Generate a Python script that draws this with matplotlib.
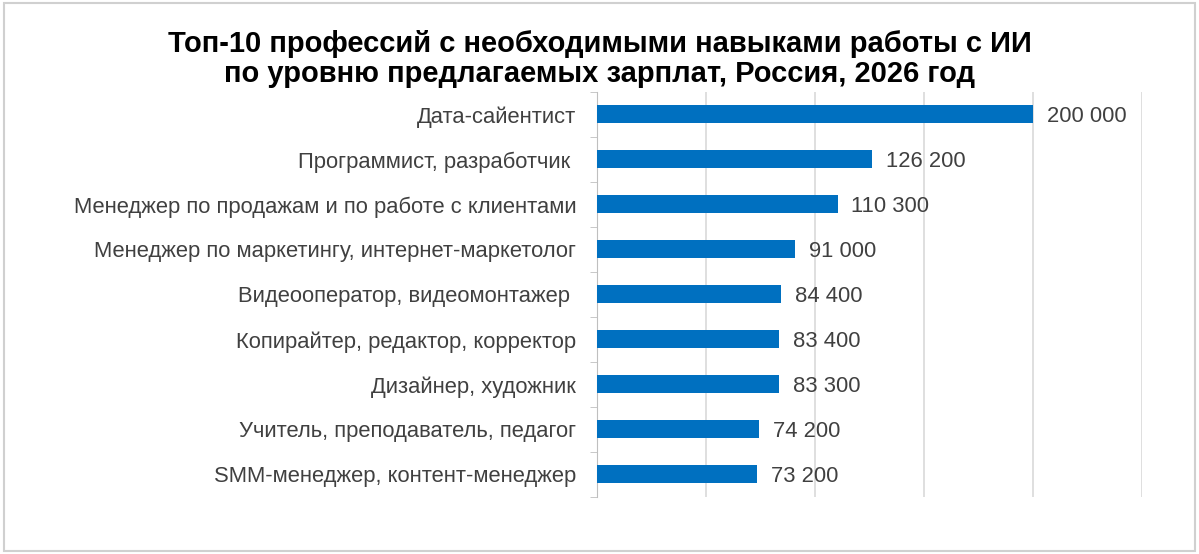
import numpy as np
import matplotlib.pyplot as plt
from matplotlib.patches import Rectangle

plt.rcParams['font.family'] = ['Liberation Sans', 'DejaVu Sans']

professions = [
    'Дата-сайентист',
    'Программист, разработчик ',
    'Менеджер по продажам и по работе с клиентами',
    'Менеджер по маркетингу, интернет-маркетолог',
    'Видеооператор, видеомонтажер ',
    'Копирайтер, редактор, корректор',
    'Дизайнер, художник',
    'Учитель, преподаватель, педагог',
    'SMM-менеджер, контент-менеджер',
]
salaries = [200000, 126200, 110300, 91000, 84400, 83400, 83300, 74200, 73200]

title = ('Топ-10 профессий с необходимыми навыками работы с ИИ\n'
         'по уровню предлагаемых зарплат, Россия, 2026 год')

fig = plt.figure(figsize=(11.99, 5.54), dpi=100)
ax = fig.add_axes([0.498, 0.103, 0.4545, 0.731])

y = np.arange(len(professions))
ax.barh(y, salaries, height=0.4, color='#0070C0', zorder=3)
ax.set_ylim(len(professions) - 0.5, -0.5)
ax.set_xlim(0, 250000)
ax.set_xticks(np.arange(0, 250001, 50000))
ax.xaxis.grid(True, color='#d9d9d9', linewidth=1.2, zorder=0)
ax.tick_params(axis='x', bottom=False, labelbottom=False)

ax.set_yticks(y)
ax.set_yticklabels(professions, fontsize=15.8, color='#404040')
ax.set_yticks(np.arange(len(professions) + 1) - 0.5, minor=True)
ax.tick_params(axis='y', which='major', length=0, pad=15)
ax.tick_params(axis='y', which='minor', length=5, color='#bfbfbf')

for s in ['top', 'right', 'bottom']:
    ax.spines[s].set_visible(False)
ax.spines['left'].set_color('#bfbfbf')

for yi, v in zip(y, salaries):
    ax.text(v + 6400, yi, f'{v:,}'.replace(',', ' '), va='center_baseline', ha='left',
            fontsize=15.8, color='#404040')

fig.text(0.5, 0.893, title, ha='center', va='center', fontsize=21,
         fontweight='bold', color='black', linespacing=1.1)

fig.patches.append(Rectangle((0.003, 0.005), 0.994, 0.99, transform=fig.transFigure,
                             fill=False, edgecolor='#d0d0d0', linewidth=1.5))

fig.savefig('out.png', dpi=100)
